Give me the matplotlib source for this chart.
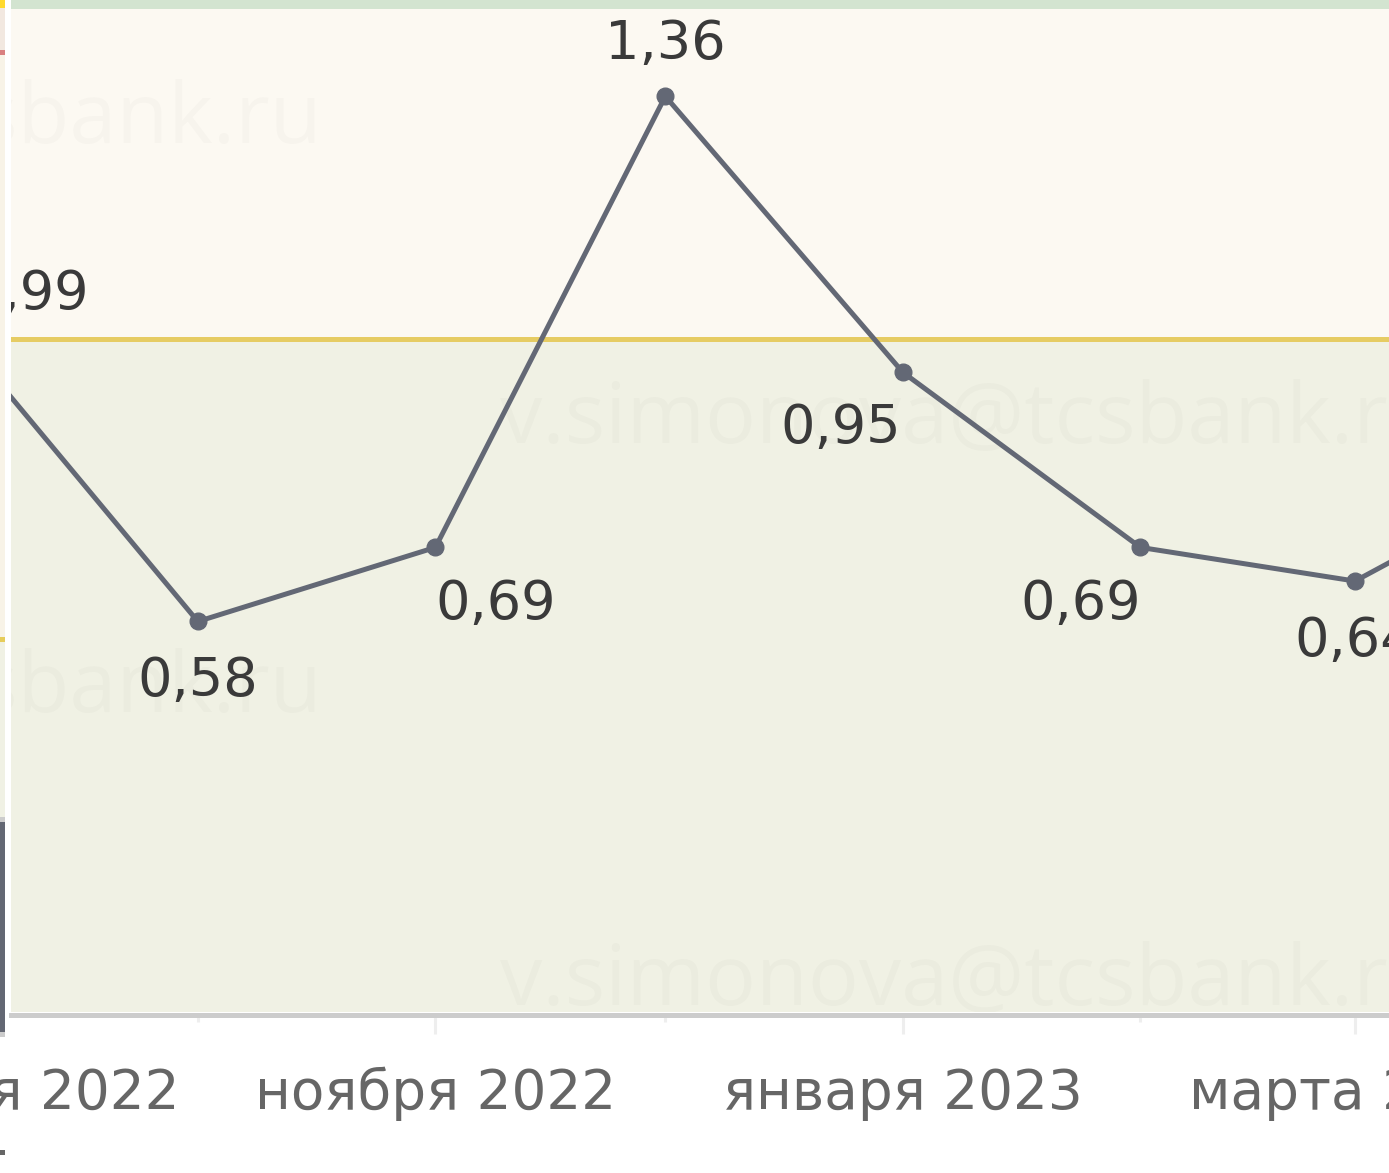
import datetime as dt
import matplotlib
matplotlib.use('Agg')
import matplotlib.pyplot as plt
import matplotlib.dates as mdates

# данные
months = [dt.date(2022, 9, 1), dt.date(2022, 10, 1), dt.date(2022, 11, 1), dt.date(2022, 12, 1),
          dt.date(2023, 1, 1), dt.date(2023, 2, 1), dt.date(2023, 3, 1), dt.date(2023, 4, 1)]
values = [0.99, 0.58, 0.69, 1.36, 0.95, 0.69, 0.64, 0.83]
show_label = [True, True, True, True, True, True, True, False]

major_ticks = [dt.date(2022, 9, 1), dt.date(2022, 11, 1), dt.date(2023, 1, 1), dt.date(2023, 3, 1)]
major_labels = ['сентября 2022', 'ноября 2022', 'января 2023', 'марта 2023']
minor_ticks = [dt.date(2022, 10, 1), dt.date(2022, 12, 1), dt.date(2023, 2, 1)]

# пороги зон
zone_low = 1.0
zone_high = 1.49
y_max = 1.503

watermark = 'v.simonova@tcsbank.ru'

# смещения подписей (в пунктах)
label_offsets = [(44, 37), (0, -43), (43, -41), (0, 38), (-45, -40), (-43, -41), (0, -43), (0, -43)]

W, H = 1389, 1173
fig = plt.figure(figsize=(W / 100, H / 100), dpi=100)
fig.patch.set_facecolor('white')

# основная область
ax = fig.add_axes([11 / W, (H - 1012) / H, 1 - 11 / W, 1012 / H])

ax.axhspan(0, zone_low, color='#F0F1E4', lw=0, zorder=0)
ax.axhspan(zone_low, zone_high, color='#FCF9F2', lw=0, zorder=0)
ax.axhspan(zone_high, y_max, color='#D3E4D0', lw=0, zorder=0)
ax.axhline(zone_low, color='#E6CC63', lw=3.6, zorder=1)

# водяные знаки
for xf, yb, ha in [(322, 143, 'right'), (500, 443, 'left'), (322, 712, 'right'), (500, 1005, 'left')]:
    ax.text(xf / W, 1 - yb / H, watermark, transform=fig.transFigure, ha=ha, va='baseline',
            fontsize=61, family='Open Sans', color='black', alpha=0.018, zorder=1, clip_on=True)

xs = mdates.date2num(months)
ax.plot(xs, values, color='#636875', lw=3.6, marker='o', markersize=12, zorder=3)

for x, v, show, off in zip(xs, values, show_label, label_offsets):
    if not show:
        continue
    ax.annotate(f'{v:.2f}'.replace('.', ','), (x, v), xytext=off, textcoords='offset points',
                ha='center', va='center', fontsize=39, color='#3a3a3a', family='DejaVu Sans',
                zorder=4, annotation_clip=False, clip_on=True)

for s in ['left', 'right', 'top']:
    ax.spines[s].set_visible(False)
ax.spines['bottom'].set_color('#CCCCCC')
ax.spines['bottom'].set_linewidth(3.6)
ax.spines['bottom'].set_position(('outward', 2.3))

ax.set_xticks(mdates.date2num(major_ticks))
ax.set_xticklabels([])
ax.set_xticks(mdates.date2num(minor_ticks), minor=True)
ax.tick_params(axis='x', which='major', length=14, width=2.2, color='#EEEEEE')
ax.tick_params(axis='x', which='minor', length=5, width=2.2, color='#EEEEEE')
ax.set_yticks([])

# подписи оси X вручную (первая подпись за краем области)
for d, lab in zip(major_ticks, major_labels):
    ax.annotate(lab, (mdates.date2num(d), 0), xycoords=ax.get_xaxis_transform(),
                xytext=(0, -70), textcoords='offset points', ha='center', va='baseline',
                fontsize=39.5, color='#666666', family='DejaVu Sans', annotation_clip=False)

# пределы осей (после тиков, чтобы тики их не расширили)
ax.set_ylim(0, y_max)
x_left = mdates.date2num(months[1]) - 187 / 7.67
x_right = mdates.date2num(months[6]) + 34 / 7.67
ax.set_xlim(x_left, x_right)

# край соседнего графика слева
strip = fig.add_axes([0, 0, 5 / W, 1])
strip.set_xlim(0, 1)
strip.set_ylim(H, 0)
strip.axis('off')
for top, bottom, c in [(0, 8, '#FFD92E'), (8, 50, '#F2E8E0'), (50, 55, '#D98080'),
                       (55, 637, '#F8F3E7'), (637, 642, '#E6CC5A'), (642, 817, '#F0F1E4'),
                       (817, 822, '#CCCCCC'), (822, 1032, '#636773'), (1032, 1037, '#CCCCCC'),
                       (1150, 1155, '#666666')]:
    strip.axhspan(top, bottom, color=c, lw=0)

fig.savefig('out.png', dpi=100, facecolor='white')
